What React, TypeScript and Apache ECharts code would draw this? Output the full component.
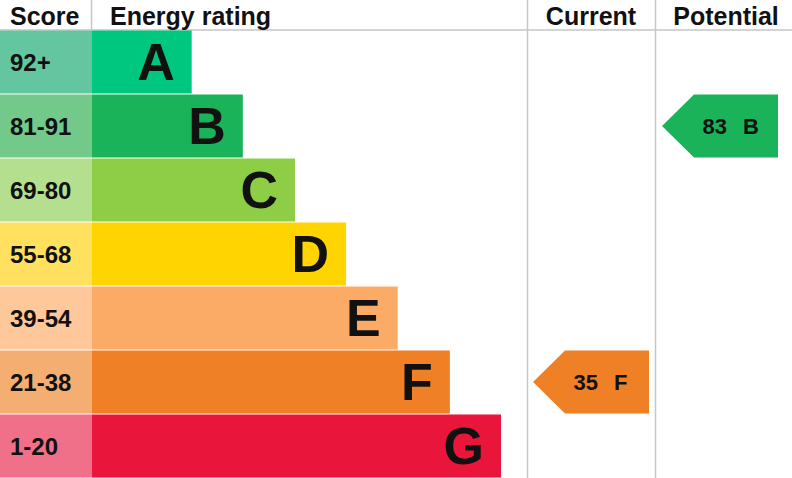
import React, { useEffect, useRef } from "react";
import * as echarts from "echarts";

// EPC bands, top (best) to bottom
const bands = ["A", "B", "C", "D", "E", "F", "G"];
const scoreRanges = ["92+", "81-91", "69-80", "55-68", "39-54", "21-38", "1-20"];
const barLengths = [1.95, 2.95, 3.97, 4.97, 5.98, 7, 8];

const currentScore = 35;
const currentBand = "F";
const potentialScore = 83;
const potentialBand = "B";

const bandColors = ["#00c77f", "#1bb35a", "#8ece46", "#ffd400", "#fcab66", "#ef8025", "#e9153b"];
const scoreColors = ["#64c6a0", "#72c98a", "#b4df8f", "#ffe15f", "#fec89b", "#f4ae72", "#f07089"];

const FONT = "'Liberation Sans', Arial, sans-serif";
const TEXT = "#111111";
const RULE = "#c6c6c6";

const arrowItem = (params: any, api: any) => {
  const idx = api.value(1);
  const cy = api.coord([0, idx])[1];
  const h = api.size([0, 1])[1] - 1;
  const cs = params.coordSys;
  const left = cs.x + 6;
  const right = cs.x + cs.width - 6;
  const nose = left + 32;
  const score = api.value(2);
  const txt = { verticalAlign: "middle", fontSize: 22, fontWeight: "bold", fontFamily: FONT, fill: TEXT };
  return {
    type: "group",
    children: [
      {
        type: "polygon",
        shape: {
          points: [
            [left, cy],
            [nose, cy - h / 2],
            [right, cy - h / 2],
            [right, cy + h / 2],
            [nose, cy + h / 2]
          ]
        },
        style: { fill: bandColors[idx] }
      },
      { type: "text", style: { ...txt, text: String(score), x: left + 65, y: cy, align: "right" } },
      { type: "text", style: { ...txt, text: bands[idx], x: left + 81, y: cy, align: "left" } }
    ]
  };
};

const App: React.FC = () => {
  const chartRef = useRef<HTMLDivElement>(null);

  useEffect(() => {
    document.body.style.margin = "0";
    const chart = echarts.init(chartRef.current!, undefined, { renderer: "svg" });

    const gridBox = (left: number, width: number) => ({ left, width, top: 30, height: 448 });
    const catAxis = (gridIndex: number) => ({
      type: "category" as const,
      gridIndex,
      data: bands,
      inverse: true,
      show: false
    });
    const valAxis = (gridIndex: number, max: number) => ({
      type: "value" as const,
      gridIndex,
      min: 0,
      max,
      show: false
    });

    const headerText = (text: string, x: number, align: string) => ({
      type: "text",
      x,
      y: 16,
      style: {
        text,
        align,
        verticalAlign: "middle",
        fontSize: 25,
        fontWeight: "bold",
        fontFamily: FONT,
        fill: TEXT
      }
    });
    const rule = (x1: number, y1: number, x2: number, y2: number) => ({
      type: "line",
      shape: { x1, y1, x2, y2 },
      style: { stroke: RULE, lineWidth: 1.5 },
      z: -1
    });

    chart.setOption({
      animation: false,
      grid: [gridBox(0, 92), gridBox(92, 409), gridBox(527, 128), gridBox(656, 128)],
      xAxis: [valAxis(0, 1), valAxis(1, 8), valAxis(2, 1), valAxis(3, 1)],
      yAxis: [catAxis(0), catAxis(1), catAxis(2), catAxis(3)],
      graphic: [
        rule(0, 30, 792, 30),
        rule(91.5, 0, 91.5, 30),
        rule(527.5, 0, 527.5, 478),
        rule(655.5, 0, 655.5, 478),
        headerText("Score", 10, "left"),
        headerText("Energy rating", 110, "left"),
        headerText("Current", 591, "center"),
        headerText("Potential", 726, "center")
      ],
      series: [
        {
          type: "bar",
          xAxisIndex: 0,
          yAxisIndex: 0,
          barWidth: 63,
          data: scoreRanges.map((_, i) => ({ value: 1, itemStyle: { color: scoreColors[i] } })),
          label: {
            show: true,
            position: "insideLeft",
            distance: 10,
            formatter: (p: any) => scoreRanges[p.dataIndex],
            fontSize: 24,
            fontWeight: "bold",
            fontFamily: FONT,
            color: TEXT
          }
        },
        {
          type: "bar",
          xAxisIndex: 1,
          yAxisIndex: 1,
          barWidth: 63,
          data: barLengths.map((v, i) => ({ value: v, itemStyle: { color: bandColors[i] } })),
          label: {
            show: true,
            position: "insideRight",
            distance: 17,
            formatter: "{b}",
            fontSize: 52,
            fontWeight: "bold",
            fontFamily: FONT,
            color: TEXT
          }
        },
        {
          type: "custom",
          xAxisIndex: 2,
          yAxisIndex: 2,
          renderItem: arrowItem,
          data: [[0, bands.indexOf(currentBand), currentScore]]
        },
        {
          type: "custom",
          xAxisIndex: 3,
          yAxisIndex: 3,
          renderItem: arrowItem,
          data: [[0, bands.indexOf(potentialBand), potentialScore]]
        }
      ]
    });

    return () => chart.dispose();
  }, []);

  return <div ref={chartRef} style={{ width: "792px", height: "478px" }} />;
};

export default App;
